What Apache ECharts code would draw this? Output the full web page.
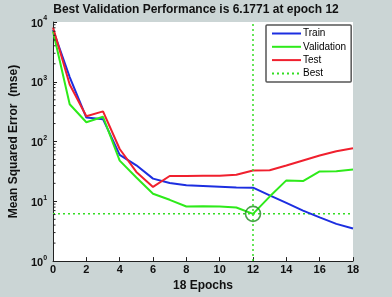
<!DOCTYPE html>
<html><head><meta charset="utf-8">
<script src="https://cdn.jsdelivr.net/npm/echarts@6/dist/echarts.min.js"></script>
<style>html,body{margin:0;padding:0;background:#cbd5d5;}#c{width:392px;height:297px;}</style>
</head><body><div id="c"></div>
<script>
var epochs = [0,1,2,3,4,5,6,7,8,9,10,11,12,13,14,15,16,17,18];
var train = [7400,1200,252,237,60,40,24,20.3,18.5,18.1,17.6,17.1,16.9,12.6,9.4,7.0,5.4,4.2,3.5];
var validation = [7000,420,210,260,48,25,13.4,10.6,8.2,8.3,8.2,7.9,6.1771,12,22.4,21.8,31.6,32,34];
var test = [8100,900,265,320,75,31,17.4,26.5,26.5,26.8,26.8,27.9,32.9,33.2,39.8,48.2,58.3,69,77];
var bestEpoch = 12;
var bestValue = 6.1771;
var xTicks = [0,2,4,6,8,10,12,14,16,18];
var yMinorTicks = [2,3,4,5,6,7,8,9,20,30,40,50,60,70,80,90,200,300,400,500,600,700,800,900,2000,3000,4000,5000,6000,7000,8000,9000];

function pairs(ys){ return epochs.map(function(e,i){ return [e, ys[i]]; }); }

var chart = echarts.init(document.getElementById('c'), null, {renderer:'canvas'});
var FONT = '"Liberation Sans", Arial, sans-serif';
chart.setOption({
  backgroundColor: '#cbd5d5',
  animation: false,
  title: {
    text: 'Best Validation Performance is ' + bestValue + ' at epoch ' + bestEpoch,
    left: 'center', top: -1,
    textStyle: {fontFamily: FONT, fontSize: 12, fontWeight: 'bold', color: '#111'}
  },
  legend: {
    orient: 'vertical', left: 266, top: 25,
    backgroundColor: '#fff', borderColor: '#555', borderWidth: 1.5, borderRadius: 1,
    padding: [3.5, 5, 3.5, 5], itemWidth: 29, itemHeight: 10, itemGap: 3.3,
    itemStyle: {opacity: 0},
    textStyle: {fontFamily: FONT, fontSize: 10, color: '#000', padding:[0,0,0,-3]},
    data: ['Train', 'Validation', 'Test', 'Best']
  },
  grid: {left: 44, top: 22, width: 309, height: 241, show: true, backgroundColor: '#fff', borderWidth: 0},
  xAxis: {
    type: 'value', min: 0, max: 18, interval: 2,
    name: epochs.length - 1 + ' Epochs', nameLocation: 'middle', nameGap: 15,
    nameTextStyle: {fontFamily: FONT, fontSize: 12, fontWeight: 'bold', color: '#111'},
    axisLine: {lineStyle: {color: '#222', width: 1}},
    axisTick: {inside: true, length: 4, lineStyle: {color: '#222'}},
    axisLabel: {fontFamily: FONT, fontSize: 11, fontWeight: 'bold', color: '#111', margin: 3,
      customValues: xTicks},
    splitLine: {show: false}
  },
  yAxis: {
    type: 'log', logBase: 10, min: 1, max: 10000,
    name: 'Mean Squared Error  (mse)', nameLocation: 'middle', nameGap: 24, nameRotate: 90,
    nameTextStyle: {fontFamily: FONT, fontSize: 12, fontWeight: 'bold', color: '#111'},
    axisLine: {show: true, lineStyle: {color: '#222', width: 1}},
    axisTick: {inside: true, length: 4, lineStyle: {color: '#222'}},
    axisLabel: {
      margin: 6,
      formatter: function(v){ var p = Math.round(Math.log10(v)); return '{b|10}{s|' + p + '}'; },
      rich: {
        b: {fontFamily: FONT, fontSize: 11, fontWeight: 'bold', color: '#111', verticalAlign: 'bottom', lineHeight: 14},
        s: {fontFamily: FONT, fontSize: 7, fontWeight: 'bold', color: '#111', verticalAlign: 'top', lineHeight: 14}
      }
    },
    splitLine: {show: false}
  },
  series: [
    {name: 'Train', type: 'line', data: pairs(train), symbol: 'none', color: '#1c2ee0',
     lineStyle: {width: 2, color: '#1c2ee0'}, z: 3},
    {name: 'Validation', type: 'line', data: pairs(validation), symbol: 'none', color: '#2eea1a',
     lineStyle: {width: 2, color: '#2eea1a'}, z: 3},
    {name: 'Test', type: 'line', data: pairs(test), symbol: 'none', color: '#f0202e',
     lineStyle: {width: 2, color: '#f0202e'}, z: 3},
    {name: 'Best', type: 'line', data: [[0, bestValue], [18, bestValue]], symbol: 'none', color: '#33dd22',
     lineStyle: {width: 1.5, type: [2, 3], color: '#33dd22'}, z: 2,
     markLine: {silent: true, symbol: 'none', label: {show: false},
       lineStyle: {width: 1.5, type: [2, 3], color: '#33dd22'},
       data: [{xAxis: bestEpoch}]}},
    {name: 'BestCircle', type: 'scatter', data: [[bestEpoch, bestValue]], symbol: 'circle', symbolSize: 15,
     itemStyle: {color: 'rgba(0,0,0,0)', borderColor: '#1e8a1e', borderWidth: 1.6}, z: 4},
    {name: 'minorTicks', type: 'custom', data: yMinorTicks.map(function(v){ return [0, v]; }), z: 5,
     renderItem: function(params, api){
       var p = api.coord([0, api.value(1)]);
       return {type: 'line', shape: {x1: p[0], y1: p[1], x2: p[0] + 2.5, y2: p[1]},
         style: {stroke: '#222', lineWidth: 1}};
     }}
  ]
});
</script></body></html>
